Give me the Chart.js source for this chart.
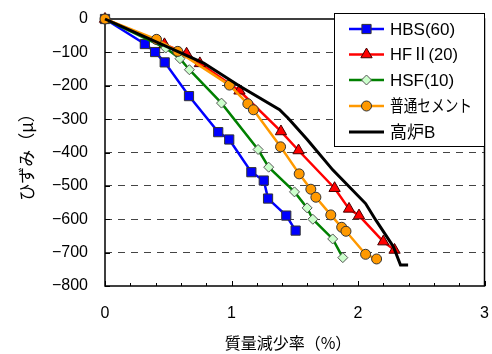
<!DOCTYPE html>
<html>
<head>
<meta charset="utf-8">
<script src="https://cdn.jsdelivr.net/npm/chart.js@4/dist/chart.umd.min.js"></script>
<style>
  html, body { margin: 0; padding: 0; background: #fff; }
  #c { display: block; }
</style>
</head>
<body>
<canvas id="c" width="492" height="354"></canvas>
<script>
// Strain vs. mass loss, one series per cement type
const seriesNames = ['HBS(60)', 'HFⅡ(20)', 'HSF(10)', '普通セメント', '高炉B'];

const hbsX = [0, 0.315, 0.396, 0.472, 0.664, 0.895, 0.982, 1.157, 1.255, 1.289, 1.433, 1.507];
const hbsY = [0, -75, -99, -130, -231, -339, -361, -459, -484, -538, -589, -634];

const hf2X = [0, 0.47, 0.645, 0.75, 1.063, 1.391, 1.53, 1.815, 1.929, 2.008, 2.2, 2.289];
const hf2Y = [0, -76, -104, -133, -215, -337, -394, -507, -569, -589, -667, -692];

const hsfX = [0, 0.48, 0.593, 0.667, 0.921, 1.21, 1.294, 1.498, 1.598, 1.643, 1.80, 1.88];
const hsfY = [0, -87, -119, -152, -252, -391, -444, -518, -566, -600, -659, -715];

const opcX = [0, 0.407, 0.575, 0.984, 1.129, 1.173, 1.388, 1.535, 1.627, 1.667, 1.785, 1.871, 1.905, 2.06, 2.147];
const opcY = [0, -61, -97, -198, -254, -272, -383, -464, -510, -534, -587, -624, -636, -705, -719];

const bfbX = [0, 0.78, 1.06, 1.38, 1.45, 1.6, 1.8, 2.06, 2.14, 2.28, 2.336, 2.396];
const bfbY = [0, -132, -200, -272, -298, -362, -452, -553, -602, -682, -737, -737];

const xTicks = [0, 1, 2, 3];
const yTicks = [0, -100, -200, -300, -400, -500, -600, -700, -800];
const xTitle = '質量減少率（%）';
const yTitle = 'ひずみ（μ）';

const LATIN = '"Liberation Sans", Arial, "Noto Sans CJK JP", sans-serif';
const JP = '"Noto Sans CJK JP", "Liberation Sans", sans-serif';

const pts = (xs, ys) => xs.map((x, i) => ({ x: x, y: ys[i] }));

const datasets = [
  { label: seriesNames[0], data: pts(hbsX, hbsY), borderColor: '#0000ff', backgroundColor: '#0000ff',
    borderWidth: 2.5, pointStyle: 'rect', pointRadius: 6.5, pointBorderColor: '#333', pointBorderWidth: 1, order: 5 },
  { label: seriesNames[1], data: pts(hf2X, hf2Y), borderColor: '#ff0000', backgroundColor: '#ff0000',
    borderWidth: 2.5, pointStyle: 'triangle', pointRadius: 6.5, pointBorderColor: '#400', pointBorderWidth: 1, order: 4 },
  { label: seriesNames[2], data: pts(hsfX, hsfY), borderColor: '#008000', backgroundColor: '#ccffcc',
    borderWidth: 2.5, pointStyle: 'rectRot', pointRadius: 5, pointBorderColor: '#555', pointBorderWidth: 1, order: 3 },
  { label: seriesNames[3], data: pts(opcX, opcY), borderColor: '#ff9900', backgroundColor: '#ff9900',
    borderWidth: 2.5, pointStyle: 'circle', pointRadius: 5, pointBorderColor: '#333', pointBorderWidth: 1, order: 2 },
  { label: seriesNames[4], data: pts(bfbX, bfbY), borderColor: '#000000', backgroundColor: '#000000',
    borderWidth: 3, pointRadius: 0, order: 1 }
];
datasets.forEach(d => { d.showLine = true; d.fill = false; d.tension = 0; d.clip = false;
  d.pointHoverRadius = d.pointRadius; d.pointBackgroundColor = d.backgroundColor; });

// Legend text widths as laid out in the box
const legendTextWidth = [68, 68, 68, 82, 50];

// Frame, inward tick marks and axis titles
const framePlugin = {
  id: 'frame',
  beforeDatasetsDraw(chart) {
    const { ctx, chartArea: a, scales: { x, y } } = chart;
    ctx.save();
    ctx.strokeStyle = '#000';
    ctx.lineWidth = 1.5;
    ctx.strokeRect(a.left, a.top, a.right - a.left, a.bottom - a.top);
    ctx.lineWidth = 1;
    ctx.beginPath();
    yTicks.forEach(v => {
      const py = Math.round(y.getPixelForValue(v)) + 0.5;
      ctx.moveTo(a.left, py); ctx.lineTo(a.left + 5, py);
    });
    for (let i = 0; i <= 15; i++) {
      const v = i * 0.2;
      const px = Math.round(x.getPixelForValue(v)) + 0.5;
      const len = (i % 5 === 0) ? 5 : 3;
      ctx.moveTo(px, a.bottom); ctx.lineTo(px, a.bottom - len);
    }
    ctx.stroke();
    ctx.restore();
  },
  afterDraw(chart) {
    const { ctx } = chart;
    ctx.save();
    ctx.fillStyle = '#000';
    ctx.font = '16px ' + JP;
    ctx.textAlign = 'center';
    ctx.textBaseline = 'middle';
    ctx.fillText(xTitle, 288, 343);
    ctx.font = '17px ' + JP;
    ctx.translate(27, 153);
    ctx.rotate(-Math.PI / 2);
    ctx.fillText(yTitle, 0, 0);
    ctx.restore();
  }
};

// Boxed legend inside the plot area
const legendPlugin = {
  id: 'boxLegend',
  afterDraw(chart) {
    const { ctx } = chart;
    const bx = 334, by = 13, bw = 150, bh = 133;
    ctx.save();
    ctx.fillStyle = '#fff';
    ctx.fillRect(bx, by, bw, bh);
    ctx.strokeStyle = '#000';
    ctx.lineWidth = 1;
    ctx.strokeRect(bx + 0.5, by + 0.5, bw, bh);
    const rows = [29, 54.5, 80, 106, 132];
    chart.data.datasets.forEach((d, i) => {
      const yy = rows[i];
      ctx.strokeStyle = d.borderColor;
      ctx.lineWidth = d.borderWidth;
      ctx.beginPath();
      ctx.moveTo(349, yy); ctx.lineTo(384, yy);
      ctx.stroke();
      if (d.pointRadius > 0) {
        ctx.fillStyle = d.pointBackgroundColor;
        ctx.strokeStyle = d.pointBorderColor;
        ctx.lineWidth = d.pointBorderWidth;
        Chart.helpers.drawPoint(ctx, { pointStyle: d.pointStyle, radius: d.pointRadius, rotation: 0, borderWidth: d.pointBorderWidth }, 366.5, yy);
      }
      ctx.fillStyle = '#000';
      ctx.font = '17px ' + LATIN;
      ctx.textAlign = 'left';
      ctx.textBaseline = 'middle';
      const w = ctx.measureText(d.label).width;
      ctx.fillText(d.label, 390, yy + 1, Math.min(w, legendTextWidth[i]));
    });
    ctx.restore();
  }
};

new Chart(document.getElementById('c'), {
  type: 'scatter',
  data: { datasets: datasets },
  options: {
    responsive: false,
    animation: false,
    layout: { padding: { left: 0, top: 19, right: 6, bottom: 0 } },
    plugins: { legend: { display: false }, tooltip: { enabled: false } },
    scales: {
      x: {
        type: 'linear', min: 0, max: 3,
        afterBuildTicks: s => { s.ticks = xTicks.map(v => ({ value: v })); },
        afterFit: s => { s.height = 68; s.paddingLeft = 0; s.paddingRight = 0; },
        ticks: { padding: 18, color: '#000', font: { size: 16, family: LATIN } },
        grid: { display: false, drawTicks: false },
        border: { display: false }
      },
      y: {
        type: 'linear', min: -800, max: 0,
        afterBuildTicks: s => { s.ticks = yTicks.slice().reverse().map(v => ({ value: v })); },
        afterFit: s => { s.width = 105; s.paddingTop = 0; s.paddingBottom = 0; },
        ticks: { padding: 17, color: '#000', font: { size: 16, family: LATIN },
          callback: v => String(v).replace('-', '−') },
        grid: { drawTicks: false, lineWidth: 1,
          color: c => (c.tick && (c.tick.value === 0 || c.tick.value === -800)) ? 'rgba(0,0,0,0)' : '#444' },
        border: { display: false, dash: [7, 6] }
      }
    }
  },
  plugins: [framePlugin, legendPlugin]
});
</script>
</body>
</html>
